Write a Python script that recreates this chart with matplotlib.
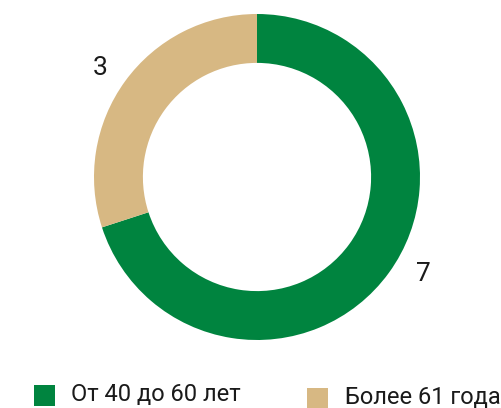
import matplotlib
matplotlib.use("Agg")
import matplotlib.pyplot as plt
from matplotlib.patches import Rectangle
import numpy as np

plt.rcParams['font.family'] = ['Roboto', 'DejaVu Sans']

categories = ["От 40 до 60 лет", "Более 61 года"]
values = [7, 3]
colors = ["#00843F", "#D7B883"]

W, H = 502, 408
fig = plt.figure(figsize=(W / 100, H / 100), dpi=100)

# donut geometry in pixels
cx, cy, R = 257, 177, 163
ax = fig.add_axes([(cx - R) / W, (H - cy - R) / H, 2 * R / W, 2 * R / H])
wedges, _ = ax.pie(values, colors=colors, startangle=90, counterclock=False,
                   radius=1.0, wedgeprops=dict(width=0.30, linewidth=0))
ax.set_xlim(-1, 1)
ax.set_ylim(-1, 1)
ax.set_aspect('equal')
ax.axis('off')

# value labels just outside each ring segment
label_pos = [(1.02, -0.595), (-0.963, 0.669)]
for v, (lx, ly) in zip(values, label_pos):
    ax.text(lx, ly, str(v), ha='center', va='center', fontsize=19, color='#1a1a1a')

# legend drawn along the bottom
items = [(34, 385, 21), (307, 388, 21)]
text_x = [71, 345]
for (sx, sy, s), tx, cat, col in zip(items, text_x, categories, colors):
    fig.add_artist(Rectangle((sx / W, (H - sy - s) / H), s / W, s / H,
                             transform=fig.transFigure, color=col, lw=0))
    fig.text(tx / W, (H - sy - s / 2 + 1) / H, cat, ha='left', va='center',
             fontsize=17, color='#1a1a1a')

fig.savefig("out.png", dpi=100)
